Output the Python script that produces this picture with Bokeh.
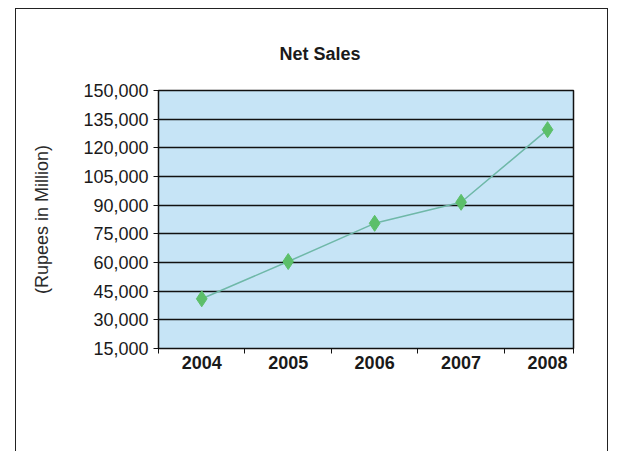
from bokeh.plotting import figure
from bokeh.models import FixedTicker, NumeralTickFormatter, LinearAxis, Range1d
from bokeh.embed import file_html
from bokeh.resources import INLINE

years = ["2004", "2005", "2006", "2007", "2008"]
net_sales = [41000, 60500, 80500, 91500, 129500]
y_ticks = [15000, 30000, 45000, 60000, 75000, 90000, 105000, 120000, 135000, 150000]

xs = [i + 0.5 for i in range(len(years))]
boundaries = list(range(len(years))) + [4.8]

FONT = "Liberation Sans"

p = figure(width=593, height=443, output_backend="svg", toolbar_location=None,
           x_range=Range1d(0, 4.8), y_range=Range1d(15000, 150000),
           min_border_left=142, min_border_right=36, min_border_top=81, min_border_bottom=104,
           x_axis_location=None)
p.margin = (8, 13, 0, 15)
p.background_fill_color = "#c6e4f6"
p.border_fill_color = "white"
p.outline_line_color = "#111111"
p.outline_line_width = 1.5

p.title.text = "Net Sales"
p.title.align = "left"
p.title.offset = 121
p.title.text_font = FONT
p.title.text_font_size = "18px"
p.title.text_font_style = "bold"
p.title.text_color = "#1a1a1a"
p.title.standoff = 54

p.xgrid.visible = False
p.ygrid.ticker = FixedTicker(ticks=y_ticks)
p.ygrid.grid_line_color = "#111111"
p.ygrid.grid_line_width = 1.3

ya = p.yaxis[0]
ya.ticker = FixedTicker(ticks=y_ticks)
ya.formatter = NumeralTickFormatter(format="0,0")
ya.axis_label = "(Rupees in Million)"
ya.axis_label_text_font = FONT
ya.axis_label_text_font_size = "18px"
ya.axis_label_text_font_style = "normal"
ya.axis_label_text_color = "#2a2a2a"
ya.axis_label_standoff = 28
ya.major_label_text_font = FONT
ya.major_label_text_font_size = "18px"
ya.major_label_text_color = "#1a1a1a"
ya.major_tick_out = 5
ya.major_tick_in = 0
ya.minor_tick_line_color = None
ya.axis_line_color = "#111111"
ya.major_tick_line_color = "#111111"
ya.major_label_standoff = 5

xa_ticks = LinearAxis(ticker=FixedTicker(ticks=boundaries),
                      major_label_overrides={b: "" for b in boundaries})
xa_ticks.major_tick_out = 5
xa_ticks.major_tick_in = 0
xa_ticks.minor_tick_line_color = None
xa_ticks.axis_line_color = "#111111"
xa_ticks.major_tick_line_color = "#111111"
xa_ticks.major_label_standoff = 0
xa_ticks.major_label_text_font_size = "1px"
p.add_layout(xa_ticks, "below")

xa_lab = LinearAxis(ticker=FixedTicker(ticks=xs),
                    major_label_overrides={x: y for x, y in zip(xs, years)})
xa_lab.axis_line_color = None
xa_lab.major_tick_line_color = None
xa_lab.minor_tick_line_color = None
xa_lab.major_label_standoff = -4
xa_lab.major_label_text_font = FONT
xa_lab.major_label_text_font_size = "18px"
xa_lab.major_label_text_font_style = "bold"
xa_lab.major_label_text_color = "#1a1a1a"
p.add_layout(xa_lab, "below")

p.line(xs, net_sales, line_color="#6fb8a8", line_width=1.5)
p.scatter(xs, net_sales, marker="diamond", size=16, fill_color="#5cbf6a", line_color="#5cbf6a")

p.styles = {"border-top": "1px solid #222", "border-left": "1px solid #222",
            "border-right": "1px solid #222"}

open("out.html", "w").write(file_html(p, INLINE))
